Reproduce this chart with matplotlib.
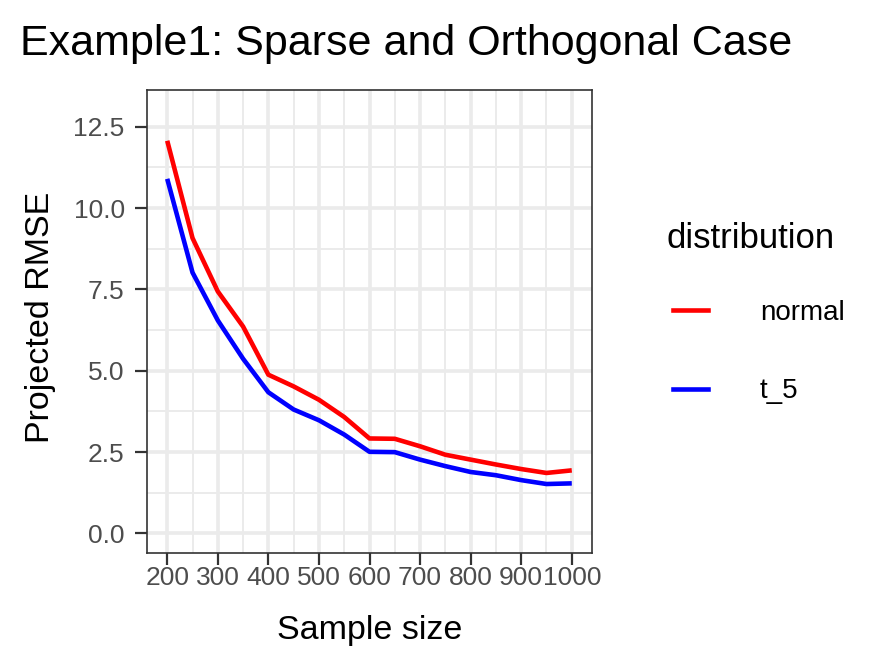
import matplotlib
matplotlib.use("Agg")
import matplotlib.pyplot as plt
from matplotlib.lines import Line2D
import numpy as np

plt.rcParams['font.family'] = ['Liberation Sans', 'DejaVu Sans']

sample_size = [200, 250, 300, 350, 400, 450, 500, 550, 600, 650, 700, 750, 800, 850, 900, 950, 1000]
normal = [12.07, 9.08, 7.44, 6.36, 4.88, 4.52, 4.11, 3.58, 2.92, 2.91, 2.68, 2.42, 2.27, 2.12, 1.98, 1.86, 1.94]
t_5 = [10.90, 8.02, 6.55, 5.37, 4.34, 3.81, 3.48, 3.04, 2.51, 2.50, 2.27, 2.07, 1.89, 1.79, 1.64, 1.52, 1.54]
series_names = ["normal", "t_5"]
series_colors = ["#FF0000", "#0000FF"]
x_ticks = [200, 300, 400, 500, 600, 700, 800, 900, 1000]
y_ticks = [0.0, 2.5, 5.0, 7.5, 10.0, 12.5]

W, H = 896, 672
fig = plt.figure(figsize=(8.96, 6.72), dpi=100)
ax = fig.add_axes([147/W, 1-553/H, (592-147)/W, (553-90)/H])

for vals, name, col in zip([normal, t_5], series_names, series_colors):
    ax.plot(sample_size, vals, color=col, lw=3.3, label=name, solid_capstyle='butt', zorder=3)

ax.set_xlim(160, 1040)
ax.set_ylim(-0.6, 13.63)
ax.set_xticks(x_ticks)
ax.set_xticklabels([str(v) for v in x_ticks])
ax.set_yticks(y_ticks)
ax.set_yticklabels([f"{v:.1f}" for v in y_ticks])
ax.set_xticks(np.arange(250, 1000, 100), minor=True)
ax.set_yticks(np.arange(1.25, 13.0, 2.5), minor=True)

ax.grid(True, which='major', color='#EBEBEB', lw=2.6, zorder=0)
ax.grid(True, which='minor', color='#EBEBEB', lw=1.4, zorder=0)
ax.set_axisbelow(True)
ax.tick_params(which='minor', length=0)
ax.tick_params(which='major', length=8.6, width=1.6, color='#333333', labelcolor='#4D4D4D', labelsize=19)
ax.tick_params(axis='x', which='major', pad=1)
ax.tick_params(axis='y', which='major', pad=7.5)
for s in ax.spines.values():
    s.set_color('#333333')
    s.set_linewidth(1.2)

# axis titles
fig.text(369.5/W, 1-639/H, "Sample size", fontsize=24.5, ha='center', va='baseline')
fig.text(49/W, 1-317/H, "Projected RMSE", fontsize=24.5, ha='center', va='baseline',
         rotation=90, rotation_mode='anchor')
# plot title
fig.text(20/W, 1-55/H, "Example1: Sparse and Orthogonal Case", fontsize=31, va='baseline', ha='left')

# legend
fig.text(666/W, 1-248/H, "distribution", fontsize=25, ha='left', va='baseline')
handles = [Line2D([0], [0], color=c, lw=3.3) for c in series_colors]
leg = fig.legend(handles, series_names, loc='upper left',
                 bbox_to_anchor=(673/W, 1-300/H), frameon=False,
                 fontsize=20, handlelength=1.26, handletextpad=1.87,
                 labelspacing=1.88, borderaxespad=0, borderpad=0)

fig.savefig("out.png", dpi=100)
